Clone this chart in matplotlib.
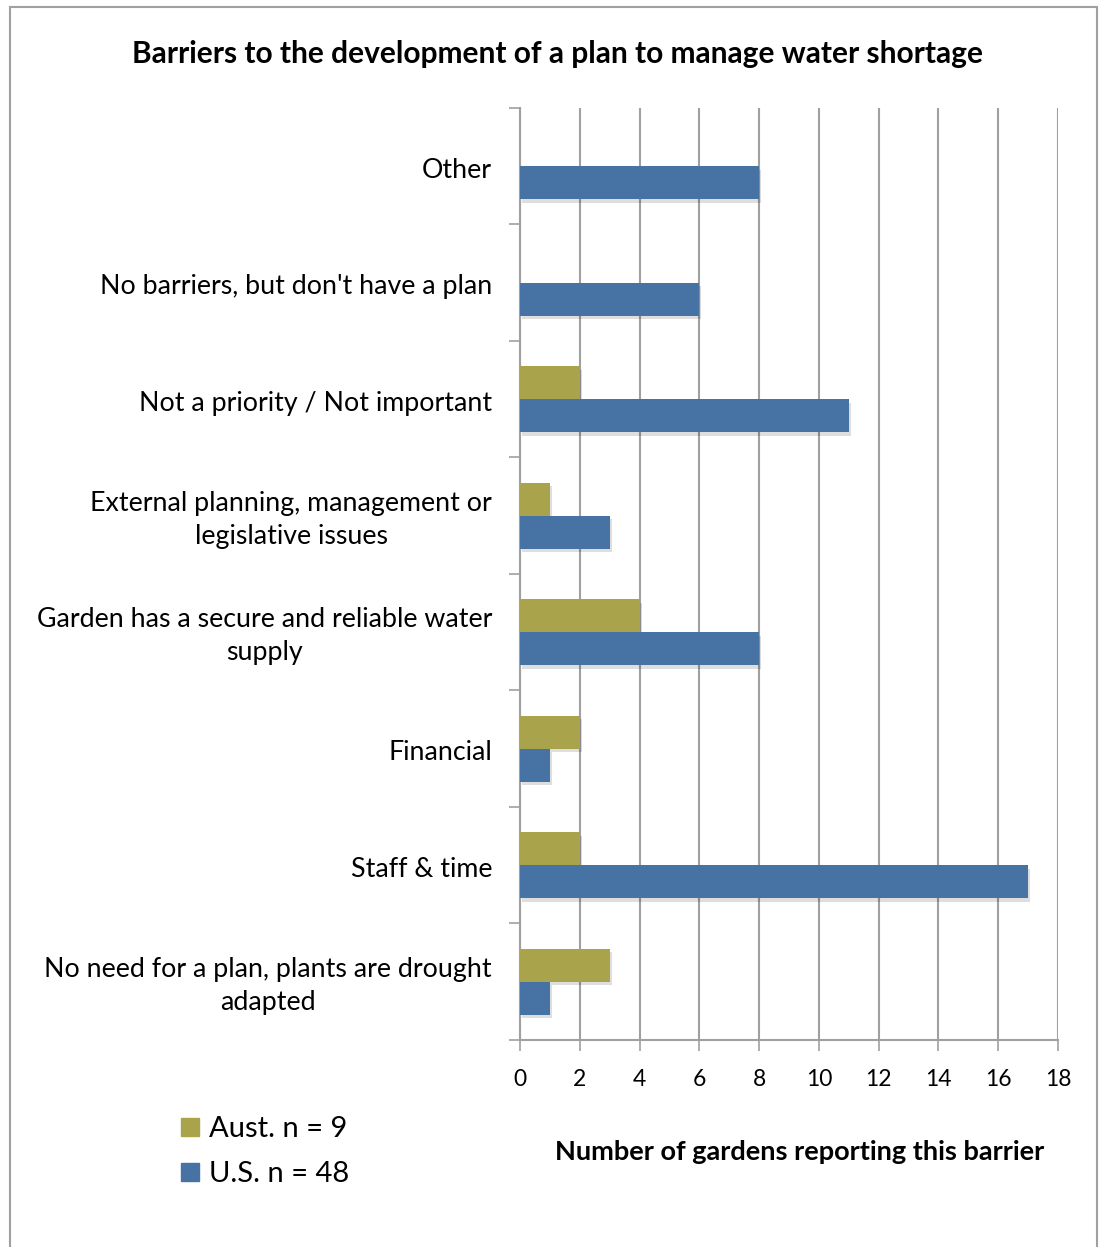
import numpy as np
import matplotlib
matplotlib.use("Agg")
import matplotlib.pyplot as plt
import matplotlib.patheffects as pe
import matplotlib.transforms as mtransforms
from matplotlib.patches import Patch, Rectangle

plt.rcParams['font.family'] = ['Lato', 'DejaVu Sans']

# barriers, listed bottom to top as drawn
categories = [
    "No need for a plan, plants are drought\nadapted",
    "Staff & time",
    "Financial",
    "Garden has a secure and reliable water\nsupply",
    "External planning, management or\nlegislative issues",
    "Not a priority / Not important",
    "No barriers, but don't have a plan",
    "Other",
]
aust = [3, 2, 2, 4, 1, 2, 0, 0]
us = [1, 17, 1, 8, 3, 11, 6, 8]
x_ticks = list(range(0, 19, 2))

aust_color = "#A9A34B"
us_color = "#4673A4"
grid_color = "#A0A0A0"

fig = plt.figure(figsize=(10.99, 12.47), dpi=100)
ax = fig.add_axes([0.4732, 0.166, 0.4895, 0.7474])

y = np.arange(len(categories))
h = 0.285
shadow = [pe.SimplePatchShadow(offset=(1.5, -2.5), shadow_rgbFace="#000000", alpha=0.13), pe.Normal()]

ax.barh(y + h / 2, aust, height=h, color=aust_color, path_effects=shadow, zorder=3)
ax.barh(y - h / 2, us, height=h, color=us_color, path_effects=shadow, zorder=3)

ax.set_xlim(0, 18)
ax.set_ylim(-0.5, len(categories) - 0.5)
ax.set_xticks(x_ticks)
ax.set_xticklabels([str(t) for t in x_ticks], fontsize=16.5)
ax.set_yticks([])

# category labels, right edge a little left of the axis
label_tf = mtransforms.offset_copy(ax.get_yaxis_transform(), fig=fig, x=-28, y=-4, units="dots")
for yi, name in zip(y, categories):
    ax.text(0, yi, name, transform=label_tf, ha="right", va="center",
            multialignment="center", fontsize=19.3, linespacing=1.42)

# ticks on category boundaries
ax.set_yticks(np.arange(-0.5, len(categories), 1), minor=True)
ax.tick_params(axis="y", which="minor", length=8, width=1.2, color=grid_color, direction="out")
ax.tick_params(axis="x", length=8, width=1.2, color=grid_color, direction="out", pad=13)

ax.xaxis.grid(True, color=grid_color, linewidth=1.5, zorder=0)
ax.set_axisbelow(True)
for side in ["top", "right"]:
    ax.spines[side].set_visible(False)
for side in ["left", "bottom"]:
    ax.spines[side].set_color(grid_color)
    ax.spines[side].set_linewidth(1.5)

fig.text(557 / 1099, 1 - 54 / 1247, "Barriers to the development of a plan to manage water shortage",
         ha="center", va="center", fontsize=21.5, fontweight="bold")
fig.text(800 / 1099, 1 - 1152 / 1247, "Number of gardens reporting this barrier",
         ha="center", va="center", fontsize=19.5, fontweight="bold")

handles = [Patch(color=aust_color, label="Aust. n = 9"), Patch(color=us_color, label="U.S. n = 48")]
fig.legend(handles=handles, loc="upper left", bbox_to_anchor=(155 / 1099, 1 - 1090 / 1247),
           frameon=False, fontsize=21, handlelength=0.6, handleheight=0.6,
           handletextpad=0.35, labelspacing=0.65)

fig.patches.append(Rectangle((10 / 1099, -0.1), 1087 / 1099, 1.1 - 7 / 1247,
                             transform=fig.transFigure, fill=False,
                             edgecolor="#A0A0A0", linewidth=1.5))

fig.savefig("out.png", dpi=100)
